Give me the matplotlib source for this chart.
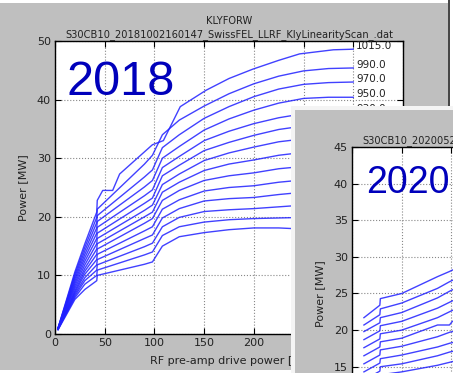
import matplotlib
matplotlib.use("Agg")
import matplotlib.pyplot as plt
from matplotlib.patches import Rectangle
from matplotlib.lines import Line2D

W, H = 453, 373

# ---- 2018 scan (main panel) ----
title_2018 = "KLYFORW\nS30CB10_20181002160147_SwissFEL_LLRF_KlyLinearityScan_.dat"
labels_2018 = ["1015.0", "990.0", "970.0", "950.0", "930.0", "910.0", "890.0",
               "870.0", "850.0", "830.0", "810.0", "790.0", "770.0", "750.0"]

# top curve has its own sampling (extra plateau around 50)
x_top = [3, 20, 30, 42, 42.5, 48, 58, 65, 98, 109, 126, 152, 175, 199, 225, 246, 280, 300]
y_top = [1.0, 10.6, 15.4, 20.8, 22.8, 24.5, 24.5, 27.3, 32.3, 33.0, 38.8, 41.6,
         43.6, 45.2, 46.7, 47.8, 48.5, 48.6]

x_2018 = [3, 20, 30, 42, 42.5, 90, 98, 108, 125, 150, 175, 200, 225, 250, 275, 300]
y_2018 = [
    [1.0, 10.2, 14.8, 19.9, 21.3, 29.0, 30.5, 34.0, 36.5, 38.9, 41.0, 42.7, 44.0, 44.9, 45.3, 45.4],
    [1.0, 9.8, 14.2, 19.0, 20.2, 26.8, 28.0, 31.8, 34.0, 36.8, 38.8, 40.5, 41.8, 42.6, 42.9, 43.0],
    [0.9, 9.4, 13.6, 18.1, 19.2, 25.1, 26.2, 30.0, 32.0, 34.8, 36.7, 38.2, 39.4, 40.2, 40.4, 40.4],
    [0.9, 9.0, 13.0, 17.2, 18.2, 23.6, 24.6, 28.4, 30.3, 33.0, 34.6, 35.9, 36.9, 37.6, 37.8, 37.8],
    [0.9, 8.6, 12.4, 16.3, 17.2, 22.3, 23.2, 27.0, 28.8, 31.3, 32.7, 33.9, 34.9, 35.5, 35.6, 35.6],
    [0.9, 8.2, 11.8, 15.4, 16.3, 21.1, 22.0, 25.5, 27.3, 29.6, 30.9, 31.9, 32.8, 33.3, 33.5, 33.5],
    [0.9, 7.8, 11.2, 14.5, 15.4, 20.0, 20.8, 24.2, 25.9, 27.9, 29.0, 29.7, 30.5, 31.0, 31.1, 31.1],
    [0.8, 7.4, 10.7, 13.6, 14.5, 18.9, 19.7, 22.8, 24.5, 26.2, 27.0, 27.5, 28.2, 28.6, 28.7, 28.7],
    [0.8, 7.1, 10.2, 12.7, 13.6, 17.6, 18.3, 21.3, 22.9, 24.4, 25.0, 25.3, 25.9, 26.3, 26.4, 26.4],
    [0.8, 6.8, 9.6, 11.8, 12.7, 16.3, 16.9, 19.8, 21.4, 22.7, 23.1, 23.3, 23.8, 24.2, 24.3, 24.3],
    [0.8, 6.5, 9.1, 10.9, 11.8, 14.9, 15.5, 18.3, 19.9, 20.9, 21.2, 21.4, 21.7, 22.0, 22.1, 22.1],
    [0.8, 6.2, 8.5, 10.0, 10.9, 13.5, 14.0, 16.8, 18.3, 19.1, 19.5, 19.7, 19.8, 19.9, 20.0, 20.0],
    [0.7, 5.9, 7.6, 9.1, 10.0, 11.9, 12.3, 15.0, 16.6, 17.3, 17.8, 18.1, 18.1, 17.9, 17.9, 17.9],
]

# ---- 2020 scan (overlapping screenshot) ----
title_2020 = "KLYFORW\nS30CB10_20200527103542_SwissFEL_LLRF_KlyLinearityScan_.dat"
x_2020 = [12, 28, 28.5, 50, 86, 98, 101, 125]
y_2020 = [
    [21.7, 23.4, 24.3, 25.0, 27.3, 28.0, 28.2, 29.4],
    [20.7, 22.1, 22.9, 23.7, 25.7, 26.6, 26.8, 28.0],
    [19.8, 21.0, 21.7, 22.4, 24.4, 25.3, 25.5, 26.7],
    [18.7, 19.9, 20.6, 21.2, 23.0, 23.8, 24.0, 25.1],
    [17.6, 18.8, 19.5, 20.0, 21.7, 22.5, 22.7, 23.8],
    [16.5, 17.7, 18.4, 18.9, 20.7, 20.7, 21.2, 22.3],
    [15.4, 16.6, 17.3, 17.8, 19.1, 19.7, 19.8, 20.8],
    [14.3, 15.5, 16.1, 16.6, 17.7, 18.2, 18.3, 19.2],
    [13.2, 14.4, 15.0, 15.4, 16.5, 17.0, 17.1, 17.9],
    [12.1, 13.3, 13.9, 14.3, 15.2, 15.6, 15.7, 16.5],
]

LINE = "#2020ff"
YEAR = "#0000bb"
GRAY = "#bfbfbf"
year_font = ["Liberation Sans Narrow", "Liberation Sans", "DejaVu Sans"]


def box(x0, y0, x1, y1):
    return [x0 / W, 1 - y1 / H, (x1 - x0) / W, (y1 - y0) / H]


def style_axes(ax):
    ax.set_facecolor("white")
    ax.grid(True, color="#888888", ls=":", lw=0.8)
    ax.tick_params(direction="in", length=4, top=True, right=True,
                   labelsize=8, pad=3, colors="black", labelcolor="#222222")
    for s in ax.spines.values():
        s.set_linewidth(1.0)
        s.set_color("black")


fig = plt.figure(figsize=(W / 100, H / 100), dpi=100, facecolor="white")
fig.patches.append(Rectangle((0, 3 / H), 448 / W, 1 - 6 / H, transform=fig.transFigure,
                             facecolor=GRAY, edgecolor="none", zorder=-2))
fig.lines.append(Line2D([449 / W, 449 / W], [0, 1], transform=fig.transFigure,
                        color="#222222", lw=1.2, zorder=-1))

ax = fig.add_axes(box(55, 41, 403, 334))
style_axes(ax)
ax.plot(x_top, y_top, color=LINE, lw=1.0, alpha=0.85)
for ys in y_2018:
    ax.plot(x_2018, ys, color=LINE, lw=1.0, alpha=0.85)
ends = [y_top[-1]] + [ys[-1] for ys in y_2018]
for lab, v in zip(labels_2018, ends):
    ax.text(303, v, lab, fontsize=7.5, ha="left", va="baseline", color="#222222",
            clip_on=False)
ax.set_xlim(0, 350)
ax.set_ylim(0, 50)
ax.set_xticks(range(0, 351, 50))
ax.set_yticks(range(0, 51, 10))
ax.set_title(title_2018, fontsize=7.1, linespacing=1.35, pad=3, color="#222222")
ax.set_xlabel("RF pre-amp drive power [W]", fontsize=8, labelpad=6, color="#222222")
ax.set_ylabel("Power [MW]", fontsize=8, labelpad=6, color="#222222")
ax.text(0.034, 0.816, "2018", transform=ax.transAxes, fontsize=35,
        family=year_font, color=YEAR, ha="left", va="baseline")

# overlapping 2020 screenshot
fig.patches.append(Rectangle((291 / W, 0), 1, 1 - 106 / H, transform=fig.transFigure,
                             facecolor="#f4f4f4", edgecolor="none", zorder=2))
fig.patches.append(Rectangle((295 / W, 0), 1, 1 - 110 / H, transform=fig.transFigure,
                             facecolor=GRAY, edgecolor="none", zorder=2.1))

ax2 = fig.add_axes(box(352, 147, 700, 440), zorder=3)
style_axes(ax2)
for ys in y_2020:
    ax2.plot(x_2020, ys, color=LINE, lw=1.0, alpha=0.85)
ax2.set_xlim(0, 350)
ax2.set_ylim(5, 45)
ax2.set_xticks(range(0, 351, 50))
ax2.set_yticks(range(5, 46, 5))
ax2.set_title(title_2020, fontsize=7.1, linespacing=1.35, pad=3, color="#222222")
ax2.set_ylabel("Power [MW]", fontsize=8, labelpad=6, color="#222222")
ax2.text(0.04, 0.843, "2020", transform=ax2.transAxes, fontsize=27,
         family=year_font, color=YEAR, ha="left", va="baseline")

fig.savefig("out.png", dpi=100, facecolor="white")
